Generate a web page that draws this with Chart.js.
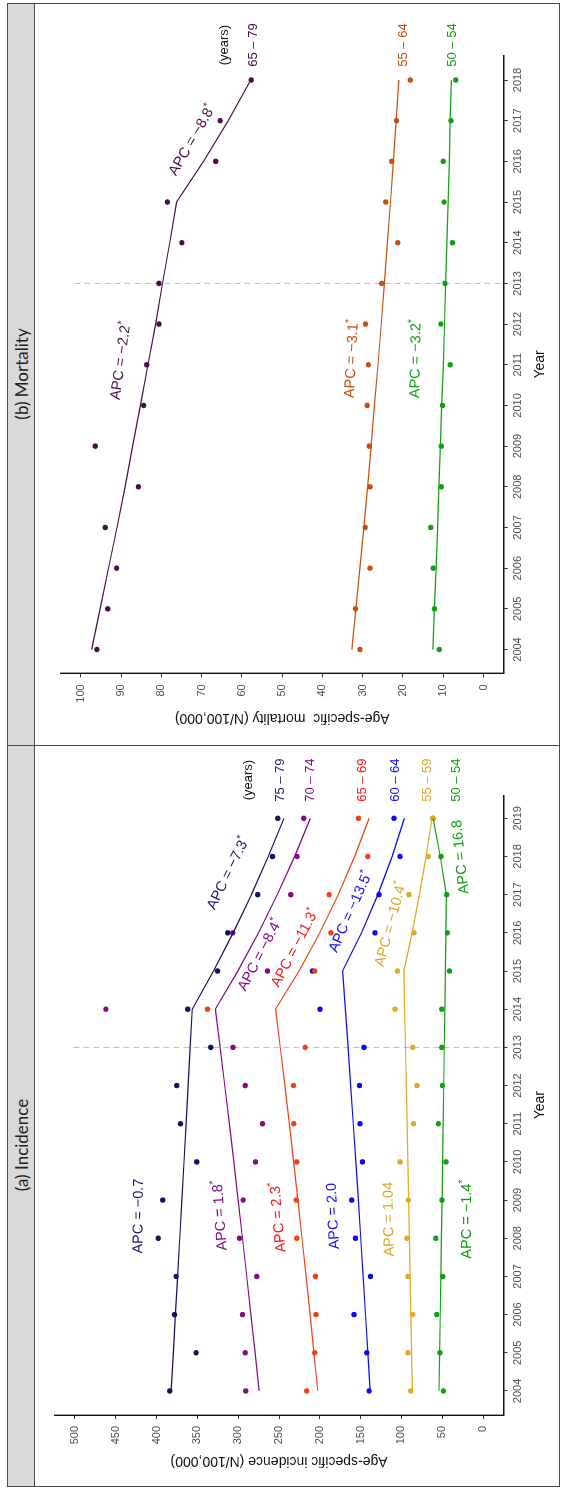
<!DOCTYPE html>
<html>
<head>
<meta charset="utf-8">
<script src="https://cdn.jsdelivr.net/npm/chart.js@4.4.1/dist/chart.umd.min.js"></script>
<style>
  html, body { margin: 0; padding: 0; background: #fff; }
  body { width: 563px; height: 1490px; overflow: hidden; position: relative; }
  /* the figure is laid out landscape and turned a quarter turn */
  #fig { position: absolute; left: 0; top: 1490px; width: 1490px; height: 563px;
         transform-origin: 0 0; transform: rotate(-90deg); background: #fff; }
  .rule { position: absolute; background: #4a4a4a; }
  .strip { position: absolute; top: 7px; height: 28px; background: #d9d9d9; box-sizing: border-box;
           font-family: Lato, "Open Sans", sans-serif; font-size: 17px; color: #222;
           display: flex; align-items: center; justify-content: center; }
  canvas { position: absolute; }
</style>
</head>
<body>
<div id="fig">
  <div class="strip" style="left:3px;width:741px;padding-right:57px;"><span>(a) Incidence</span></div>
  <div class="strip" style="left:745px;width:742px;"><span>(b) Mortality</span></div>
  <div class="rule" style="left:3px;top:7px;width:1484px;height:1px;"></div>
  <div class="rule" style="left:3px;top:559px;width:1484px;height:1px;"></div>
  <div class="rule" style="left:3px;top:7px;width:1px;height:553px;"></div>
  <div class="rule" style="left:1486px;top:7px;width:1px;height:553px;"></div>
  <div class="rule" style="left:744px;top:7px;width:1px;height:553px;"></div>
  <div class="rule" style="left:3px;top:34px;width:1484px;height:1px;"></div>
  <canvas id="cInc" width="740" height="524" style="left:4px;top:35px;"></canvas>
  <canvas id="cMor" width="741" height="524" style="left:745px;top:35px;"></canvas>
</div>
<script>
// ---------- incidence (per 100,000), 2004-2019 ----------
const incYears = [2004, 2005, 2006, 2007, 2008, 2009, 2010, 2011, 2012, 2013, 2014, 2015, 2016, 2017, 2018, 2019];
const incGroups = ['75 – 79', '70 – 74', '65 – 69', '60 – 64', '55 – 59', '50 – 54'];

const inc75to79 = [383.8, 351.6, 378.1, 376.1, 398.1, 392.4, 350.8, 370.8, 375.3, 333.6, 361.8, 325.4, 312.8, 276.0, 258.0, 251.5];
const inc70to74 = [290.7, 291.5, 294.8, 277.3, 298.5, 294.0, 278.9, 270.3, 291.5, 306.3, 462.2, 264.2, 306.7, 235.6, 227.8, 219.7];
const inc65to69 = [216.0, 206.2, 204.6, 205.4, 228.3, 229.0, 228.3, 231.9, 232.3, 218.0, 337.7, 206.3, 186.2, 188.6, 141.3, 152.7];
const inc60to64 = [139.6, 142.5, 158.0, 138.0, 156.4, 160.9, 147.8, 150.7, 151.5, 145.8, 199.7, 209.0, 132.3, 127.4, 101.7, 109.0];
const inc55to59 = [88.6, 91.9, 86.2, 91.9, 93.5, 91.5, 101.7, 85.3, 80.9, 86.2, 107.8, 104.9, 84.5, 90.6, 67.0, 61.7];
const inc50to54 = [48.6, 52.7, 56.8, 49.4, 58.0, 50.2, 45.3, 54.7, 49.8, 50.6, 50.6, 41.2, 43.7, 44.5, 51.4, 61.2];

// joinpoint fitted incidence
const incFit75to79 = [382.2, 379.5, 376.9, 374.2, 371.6, 369.0, 366.4, 363.9, 361.3, 358.8, 356.3, 330.3, 306.2, 283.8, 263.1, 243.9];
const incFit70to74 = [274.4, 279.3, 284.4, 289.5, 294.7, 300.0, 305.4, 310.9, 316.5, 322.2, 328.0, 300.4, 275.2, 252.1, 230.9, 211.5];
const incFit65to69 = [202.5, 207.2, 211.9, 216.8, 221.8, 226.9, 232.1, 237.4, 242.9, 248.5, 254.2, 225.5, 200.0, 177.4, 157.3, 139.6];
const incFit60to64 = [138.4, 141.2, 144.0, 146.9, 149.8, 152.8, 155.9, 159.0, 162.2, 165.4, 168.7, 172.1, 148.9, 128.8, 111.4, 96.3];
const incFit55to59 = [86.6, 87.5, 88.4, 89.3, 90.2, 91.2, 92.1, 93.1, 94.0, 95.0, 96.0, 97.0, 86.9, 77.9, 69.8, 62.5];
const incFit50to54 = [53.9, 53.1, 52.4, 51.7, 50.9, 50.2, 49.5, 48.8, 48.1, 47.5, 46.8, 46.2, 45.5, 44.9, 52.4, 61.2];

const incTicks = [0, 50, 100, 150, 200, 250, 300, 350, 400, 450, 500];

// ---------- mortality (per 100,000), 2004-2018 ----------
const morYears = [2004, 2005, 2006, 2007, 2008, 2009, 2010, 2011, 2012, 2013, 2014, 2015, 2016, 2017, 2018];
const morGroups = ['65 – 79', '55 – 64', '50 – 54'];

const mor65to79 = [96.0, 93.3, 91.1, 93.9, 85.7, 96.4, 84.4, 83.6, 80.6, 80.6, 74.9, 78.5, 66.5, 65.4, 57.7];
const mor55to64 = [30.7, 31.8, 28.2, 29.4, 28.2, 28.4, 28.9, 28.6, 29.3, 25.3, 21.3, 24.3, 22.8, 21.6, 18.2];
const mor50to54 = [11.0, 12.2, 12.5, 13.1, 10.5, 10.5, 10.2, 8.3, 10.6, 9.6, 7.7, 9.8, 10.0, 8.1, 6.9];

const morFit65to79 = [97.3, 95.2, 93.1, 91.0, 89.0, 87.1, 85.2, 83.3, 81.4, 79.7, 77.9, 76.2, 69.5, 63.4, 57.8];
const morFit55to64 = [32.7, 31.7, 30.7, 29.7, 28.8, 27.9, 27.1, 26.2, 25.4, 24.6, 23.9, 23.1, 22.4, 21.7, 21.0];
const morFit50to54 = [12.6, 12.2, 11.8, 11.4, 11.1, 10.7, 10.4, 10.0, 9.7, 9.4, 9.1, 8.8, 8.5, 8.3, 8.0];

const morTicks = [0, 10, 20, 30, 40, 50, 60, 70, 80, 90, 100];

// annual percent change labels: [text, significant]
const incApcText = [['APC = −0.7', false], ['APC = 1.8', true], ['APC = 2.3', true], ['APC = 2.0', false], ['APC = 1.04', false], ['APC = −1.4', true],
                    ['APC = −7.3', true], ['APC = −8.4', true], ['APC = −11.3', true], ['APC = −13.5', true], ['APC = −10.4', true], ['APC = 16.8', false]];
const morApcText = [['APC = −2.2', true], ['APC = −8.8', true], ['APC = −3.1', true], ['APC = −3.2', true]];

// ---------- styling / placement ----------
const FONT = "'Liberation Sans', Arial, Helvetica, sans-serif";
const incColors = ['#121262', '#860a86', '#ee4216', '#0b0bf2', '#e4a824', '#12a012'];
const incLabelColors = ['#1c1c78', '#860a86', '#f51818', '#1010ff', '#dca62a', '#12a012'];
const morColors = ['#4a0c4a', '#c6500f', '#12a012'];

// [year, value] of the age-group labels, first entry is the "(years)" caption
const incLabelAt = [[2020.0, 288], [2020.0, 248.7], [2020.0, 211], [2020.0, 147.4], [2020.0, 107.8], [2020.0, 67.7], [2020.0, 33.1]];
const morLabelAt = [[2018.86, 64.3], [2018.86, 57.2], [2018.86, 20.0], [2018.86, 7.8]];

// [year, value, angle°, colour index]
const incApcAt = [[2008.58, 422, 0.5, 0], [2008.6, 322, -4, 1], [2008.55, 250.8, -5, 2], [2008.58, 183.4, -3, 3], [2008.5, 115.2, -1, 4], [2008.5, 19.2, 0, 5],
                  [2017.56, 312, 26, 0], [2015.42, 273, 27.5, 1], [2015.6, 230.3, 27.5, 2], [2016.55, 162, 24, 3], [2016.23, 113, 15, 4], [2017.99, 27.3, -6, 5]];
const morApcAt = [[2011.1, 90, 8, 0], [2016.52, 72.3, 30, 0], [2011.15, 32.7, 3, 1], [2011.15, 16.8, 1, 2]];

Chart.defaults.font.family = FONT;

function buildDatasets(years, obs, fits, colors) {
  const sets = [];
  fits.forEach((f, i) => sets.push({
    data: years.map((yr, k) => ({x: yr, y: f[k]})),
    showLine: true, borderColor: colors[i], borderWidth: 1.2, pointRadius: 0, fill: false, tension: 0
  }));
  obs.forEach((o, i) => sets.push({
    data: years.map((yr, k) => ({x: yr, y: o[k]})),
    showLine: false, pointRadius: 2.7, pointBorderWidth: 0, backgroundColor: colors[i], borderColor: colors[i]
  }));
  return sets;
}

function drawApc(ctx, text, star, x, y, angle, color, size) {
  ctx.save();
  ctx.translate(x, y);
  ctx.rotate(angle * Math.PI / 180);
  const main = size + 'px ' + FONT, small = (size * 0.72) + 'px ' + FONT;
  ctx.font = main; const w1 = ctx.measureText(text).width;
  ctx.font = small; const w2 = star ? ctx.measureText('*').width : 0;
  const x0 = -(w1 + w2) / 2;
  ctx.fillStyle = color; ctx.textBaseline = 'middle'; ctx.textAlign = 'left';
  ctx.font = main; ctx.fillText(text, x0, 0);
  if (star) { ctx.font = small; ctx.fillText('*', x0 + w1, -size * 0.32); }
  ctx.restore();
}

function annotate(cfg) {
  return {
    id: 'annot',
    beforeDatasetsDraw(chart) {
      const {ctx, scales: {x, y}, chartArea} = chart;
      ctx.save();
      ctx.strokeStyle = '#bdbdbd'; ctx.lineWidth = 1; ctx.setLineDash([6, 4]);
      const px = x.getPixelForValue(cfg.breakYear);
      ctx.beginPath(); ctx.moveTo(px, y.getPixelForValue(cfg.breakTop)); ctx.lineTo(px, chartArea.bottom); ctx.stroke();
      ctx.restore();
    },
    afterDatasetsDraw(chart) {
      const {ctx, scales: {x, y}} = chart;
      ctx.save();
      ctx.textAlign = 'center'; ctx.textBaseline = 'middle';
      ctx.font = '13px ' + FONT;
      cfg.labelAt.forEach((p, i) => {
        ctx.fillStyle = i === 0 ? '#111' : cfg.labelColors[i - 1];
        ctx.fillText(i === 0 ? '(years)' : cfg.groups[i - 1], x.getPixelForValue(p[0]), y.getPixelForValue(p[1]));
      });
      ctx.restore();
      cfg.apcAt.forEach((p, i) => {
        drawApc(ctx, cfg.apcText[i][0], cfg.apcText[i][1], x.getPixelForValue(p[0]), y.getPixelForValue(p[1]), p[2], cfg.labelColors[p[3]], 14.5);
      });
    }
  };
}

function makeChart(canvasId, cfg) {
  return new Chart(document.getElementById(canvasId), {
    type: 'scatter',
    data: {datasets: buildDatasets(cfg.years, cfg.obs, cfg.fits, cfg.colors)},
    options: {
      responsive: false, animation: false, devicePixelRatio: 1,
      layout: {padding: {top: cfg.padTop, right: cfg.padRight, left: 0, bottom: 0}},
      plugins: {legend: {display: false}, tooltip: {enabled: false}},
      scales: {
        x: {
          type: 'linear', position: 'bottom', min: cfg.xMin, max: cfg.xMax,
          afterFit(s) { s.height = cfg.xAxisH; },
          afterBuildTicks(s) { s.ticks = cfg.years.map(v => ({value: v})); },
          ticks: {color: '#4d4d4d', font: {size: 11}, padding: 4, maxRotation: 0, autoSkip: false, callback: v => String(v)},
          grid: {display: true, drawOnChartArea: false, drawTicks: true, tickLength: 4, color: '#333', lineWidth: 1},
          border: {display: true, color: '#111', width: 1.4},
          title: {display: true, text: 'Year', color: '#111', font: {size: 14}, padding: {top: 0, bottom: 10.6}}
        },
        y: {
          type: 'linear', position: 'left', min: cfg.yMin, max: cfg.yMax,
          afterFit(s) { s.width = cfg.yAxisW; },
          afterBuildTicks(s) { s.ticks = cfg.ticks.map(v => ({value: v})); },
          ticks: {color: '#4d4d4d', font: {size: 11}, padding: 7, callback: v => String(v)},
          grid: {display: true, drawOnChartArea: false, drawTicks: true, tickLength: 4, color: '#333', lineWidth: 1},
          border: {display: true, color: '#111', width: 1.4},
          title: {display: true, text: cfg.yTitle, color: '#111', font: {size: 14}, padding: {top: cfg.yTitlePad, bottom: 0}}
        }
      }
    },
    plugins: [annotate(cfg)]
  });
}

makeChart('cInc', {
  years: incYears, groups: incGroups,
  obs: [inc75to79, inc70to74, inc65to69, inc60to64, inc55to59, inc50to54],
  fits: [incFit75to79, incFit70to74, incFit65to69, incFit60to64, incFit55to59, incFit50to54],
  colors: incColors, labelColors: incLabelColors, ticks: incTicks,
  xMin: 2003.37, xMax: 2019.6, yMin: -25, yMax: 525,
  padTop: 19.6, padRight: 49.4, xAxisH: 55.6, yAxisW: 71, yTitlePad: 16.6,
  yTitle: 'Age-specific incidence (N/100,000)',
  breakYear: 2013, breakTop: 502,
  labelAt: incLabelAt, apcText: incApcText, apcAt: incApcAt
});

makeChart('cMor', {
  years: morYears, groups: morGroups,
  obs: [mor65to79, mor55to64, mor50to54],
  fits: [morFit65to79, morFit55to64, morFit50to54],
  colors: morColors, labelColors: morColors, ticks: morTicks,
  xMin: 2003.415, xMax: 2018.6, yMin: -5, yMax: 105,
  padTop: 25.6, padRight: 51.6, xAxisH: 55.3, yAxisW: 71.7, yTitlePad: 18.9,
  yTitle: 'Age-specific  mortality (N/100,000)',
  breakYear: 2013, breakTop: 101.5,
  labelAt: morLabelAt, apcText: morApcText, apcAt: morApcAt
});
</script>
</body>
</html>
